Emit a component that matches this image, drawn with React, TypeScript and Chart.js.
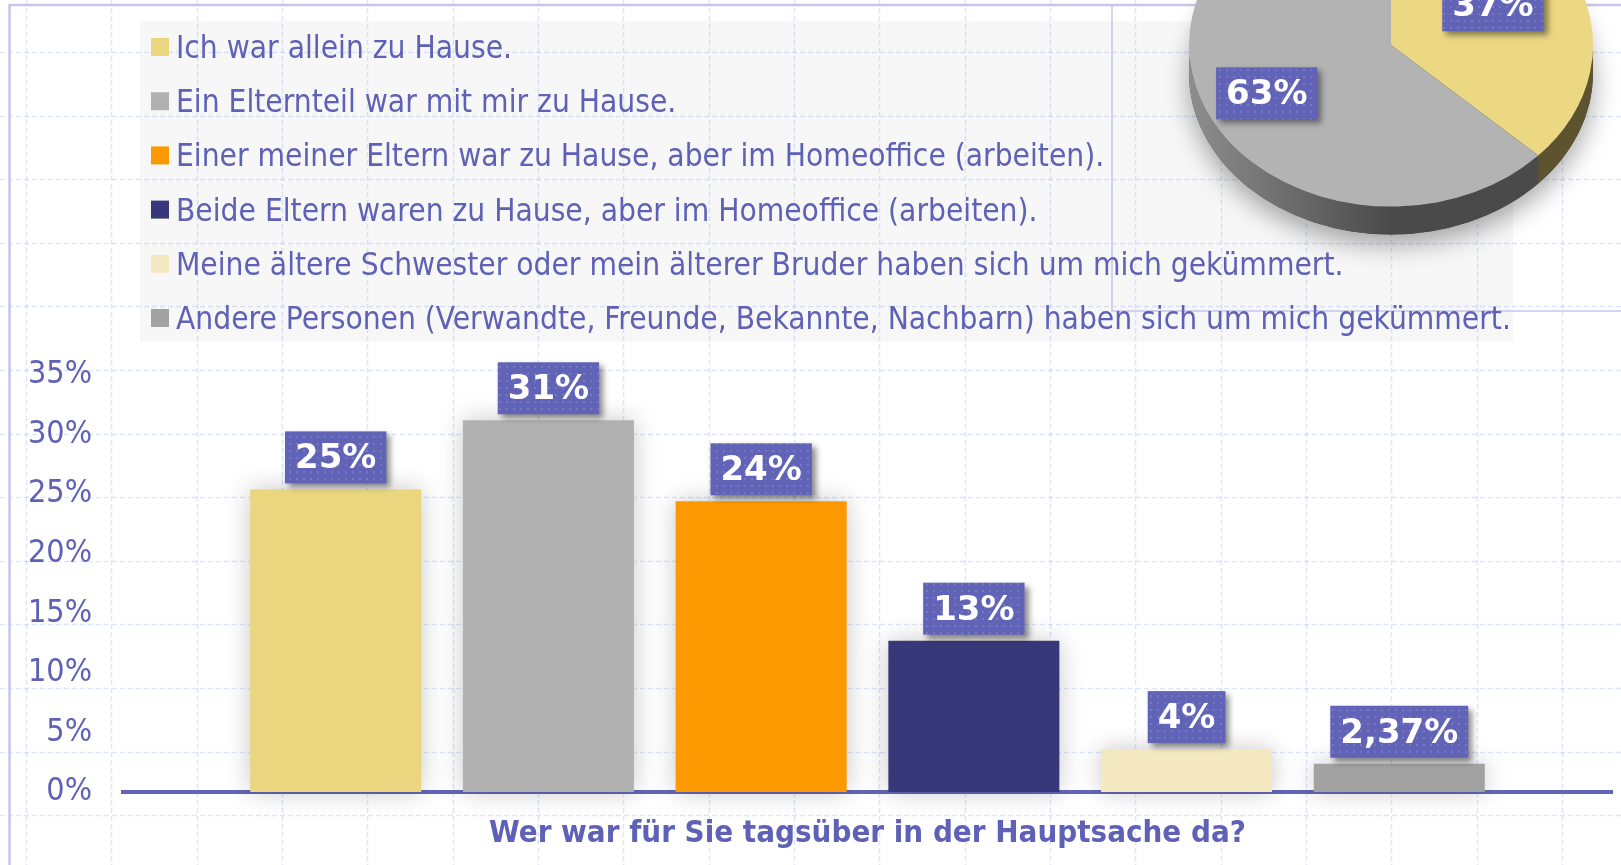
import React, { useEffect, useRef } from 'react';
import { Chart, registerables } from 'chart.js';

Chart.register(...registerables);

// ---------- data ----------
const CATEGORIES = [
  'Ich war allein zu Hause.',
  'Ein Elternteil war mit mir zu Hause.',
  'Einer meiner Eltern war zu Hause, aber im Homeoffice (arbeiten).',
  'Beide Eltern waren zu Hause, aber im Homeoffice (arbeiten).',
  'Meine ältere Schwester oder mein älterer Bruder haben sich um mich gekümmert.',
  'Andere Personen (Verwandte, Freunde, Bekannte, Nachbarn) haben sich um mich gekümmert.',
];
const VALUES = [25.4, 31.2, 24.4, 12.7, 3.6, 2.37];
const VALUE_LABELS = ['25%', '31%', '24%', '13%', '4%', '2,37%'];
const BAR_COLORS = ['#e9d67f', '#b1b1b1', '#fd9900', '#373879', '#f4e8c1', '#a2a2a2'];
const Y_MIN = 0;
const Y_MAX = 35;
const Y_STEP = 5;
const X_TITLE = 'Wer war für Sie tagsüber in der Hauptsache da?';

const PIE_VALUES = [37, 63];
const PIE_VALUE_LABELS = ['37%', '63%'];
const PIE_COLORS = ['#ecd883', '#b3b3b3'];
const PIE_SIDE_COLORS = [['#72653a', '#5e532f'], ['#8e8e8e', '#4a4a4a']];
const PIE_LABEL_RADIUS = [0.55, 0.67];

// ---------- style ----------
const FONT = '"DejaVu Sans Condensed", "DejaVu Sans", sans-serif';
const BOX_FONT = '"DejaVu Sans", sans-serif';
const TEXT = '#5e61b5';
const BOX = '#6163b7';
const W = 1621;
const H = 865;

let dotPattern: CanvasPattern | null = null;
function getPattern(ctx: CanvasRenderingContext2D) {
  if (dotPattern) return dotPattern;
  const c = document.createElement('canvas');
  c.width = 7;
  c.height = 7;
  const p = c.getContext('2d')!;
  p.fillStyle = 'rgba(255,255,255,0.13)';
  p.fillRect(2, 2, 2, 2);
  dotPattern = ctx.createPattern(c, 'repeat');
  return dotPattern;
}

function drawBox(ctx: CanvasRenderingContext2D, cx: number, cy: number, text: string) {
  ctx.save();
  ctx.font = `bold 34px ${BOX_FONT}`;
  const tw = ctx.measureText(text).width;
  const w = tw + 20;
  const h = 52;
  const x = cx - w / 2;
  const y = cy - h / 2;
  ctx.shadowColor = 'rgba(0,0,0,0.45)';
  ctx.shadowBlur = 6;
  ctx.shadowOffsetX = 4;
  ctx.shadowOffsetY = 4;
  ctx.fillStyle = BOX;
  ctx.fillRect(x, y, w, h);
  ctx.shadowColor = 'transparent';
  const pat = getPattern(ctx);
  if (pat) {
    ctx.fillStyle = pat;
    ctx.fillRect(x, y, w, h);
  }
  ctx.fillStyle = '#ffffff';
  ctx.textAlign = 'center';
  ctx.textBaseline = 'middle';
  ctx.fillText(text, cx, cy + 2);
  ctx.restore();
}

const backgroundPlugin = {
  id: 'slideBackground',
  beforeDraw(chart: any) {
    const ctx: CanvasRenderingContext2D = chart.ctx;
    ctx.save();
    ctx.fillStyle = '#ffffff';
    ctx.fillRect(0, 0, W, H);
    // legend panel
    ctx.fillStyle = '#f7f7f7';
    ctx.fillRect(140, 21, 1373, 321);
    // paper grid
    ctx.strokeStyle = 'rgba(170,190,245,0.38)';
    ctx.lineWidth = 1.5;
    ctx.setLineDash([5, 3]);
    for (let x = 26; x < W; x += 85.33) {
      ctx.beginPath();
      ctx.moveTo(Math.round(x) + 0.5, 0);
      ctx.lineTo(Math.round(x) + 0.5, H);
      ctx.stroke();
    }
    for (let y = 52; y < H; y += 63.6) {
      ctx.beginPath();
      ctx.moveTo(0, Math.round(y) + 0.5);
      ctx.lineTo(W, Math.round(y) + 0.5);
      ctx.stroke();
    }
    ctx.setLineDash([]);
    // frames
    ctx.strokeStyle = '#c6c6ec';
    ctx.lineWidth = 2.5;
    ctx.beginPath();
    ctx.moveTo(9.5, H);
    ctx.lineTo(9.5, 5);
    ctx.lineTo(W, 5);
    ctx.stroke();
    ctx.lineWidth = 1.5;
    ctx.beginPath();
    ctx.moveTo(1112, 5);
    ctx.lineTo(1112, 311);
    ctx.lineTo(W, 311);
    ctx.stroke();
    // legend
    ctx.font = `31.4px ${FONT}`;
    ctx.textAlign = 'left';
    ctx.textBaseline = 'alphabetic';
    CATEGORIES.forEach((label, i) => {
      const cy = 47 + i * 54.2;
      ctx.fillStyle = BAR_COLORS[i];
      ctx.fillRect(151, cy - 9, 18, 18);
      ctx.fillStyle = TEXT;
      ctx.fillText(label, 176, cy + 11);
    });
    ctx.restore();
  },
};

const barShadowPlugin = {
  id: 'barShadow',
  beforeDatasetDraw(chart: any) {
    const ctx = chart.ctx;
    ctx.save();
    ctx.shadowColor = 'rgba(0,0,0,0.22)';
    ctx.shadowBlur = 24;
  },
  afterDatasetDraw(chart: any) {
    chart.ctx.restore();
  },
};

const barLabelPlugin = {
  id: 'barLabels',
  afterDatasetsDraw(chart: any) {
    const ctx = chart.ctx;
    const meta = chart.getDatasetMeta(0);
    const data = chart.data.datasets[0].data;
    meta.data.forEach((bar: any, i: number) => {
      if (data[i] == null) return;
      drawBox(ctx, bar.x, bar.y - 6 - 26, VALUE_LABELS[i - 1]);
    });
  },
};

const PIE_K = 0.8;
const PIE_LABEL_K = 0.9;
const PIE_DEPTH = 28;

const pie3dPlugin = {
  id: 'pie3d',
  beforeDatasetsDraw(chart: any) {
    const ctx: CanvasRenderingContext2D = chart.ctx;
    const meta = chart.getDatasetMeta(0);
    const a0 = meta.data[0];
    const cx = a0.x;
    const cy = a0.y;
    const R = a0.outerRadius;
    const D = PIE_DEPTH / PIE_K;
    ctx.save();
    ctx.translate(cx, cy);
    ctx.scale(1, PIE_K);
    ctx.translate(-cx, -cy);
    // drop shadow
    ctx.save();
    ctx.shadowColor = 'rgba(0,0,0,0.35)';
    ctx.shadowBlur = 26;
    ctx.shadowOffsetY = 10;
    ctx.fillStyle = '#4a4a4a';
    ctx.beginPath();
    ctx.arc(cx, cy + D, R, 0, Math.PI * 2);
    ctx.fill();
    ctx.restore();
    meta.data.forEach((arc: any, i: number) => {
      const g = ctx.createLinearGradient(cx - R, 0, cx + R, 0);
      g.addColorStop(0, PIE_SIDE_COLORS[i][0]);
      g.addColorStop(0.5, PIE_SIDE_COLORS[i][1]);
      g.addColorStop(1, PIE_SIDE_COLORS[i][1]);
      for (const off of [-2 * Math.PI, 0, 2 * Math.PI]) {
        const s = Math.max(arc.startAngle + off, 0);
        const e = Math.min(arc.endAngle + off, Math.PI);
        if (e <= s) continue;
        ctx.beginPath();
        ctx.arc(cx, cy, R, s, e);
        ctx.arc(cx, cy + D, R, e, s, true);
        ctx.closePath();
        ctx.fillStyle = g;
        ctx.fill();
      }
    });
  },
  afterDatasetsDraw(chart: any) {
    const ctx: CanvasRenderingContext2D = chart.ctx;
    ctx.restore();
    const meta = chart.getDatasetMeta(0);
    meta.data.forEach((arc: any, i: number) => {
      const mid = (arc.startAngle + arc.endAngle) / 2;
      const r = arc.outerRadius * PIE_LABEL_RADIUS[i];
      const x = arc.x + Math.cos(mid) * r;
      const y = arc.y + Math.sin(mid) * r * PIE_LABEL_K;
      drawBox(ctx, x, y, PIE_VALUE_LABELS[i]);
    });
  },
};

export default function App() {
  const barRef = useRef<HTMLCanvasElement>(null);
  const pieRef = useRef<HTMLCanvasElement>(null);

  useEffect(() => {
    document.body.style.margin = '0';
    const bar = new Chart(barRef.current!, {
      type: 'bar',
      data: {
        labels: ['', ...CATEGORIES, ''],
        datasets: [
          {
            data: [null, ...VALUES, null],
            backgroundColor: ['transparent', ...BAR_COLORS, 'transparent'],
            borderWidth: 0,
            categoryPercentage: 1,
            barPercentage: 0.804,
            clip: false,
          } as any,
        ],
      },
      options: {
        responsive: false,
        animation: false,
        events: [],
        layout: { padding: { top: 375, left: 0, right: 9, bottom: 0 } },
        plugins: { legend: { display: false }, tooltip: { enabled: false } },
        scales: {
          x: {
            type: 'category',
            offset: false,
            ticks: { display: false },
            grid: { display: false, drawTicks: false },
            border: { display: true, color: '#6366b8', width: 4 },
            title: {
              display: true,
              text: X_TITLE,
              color: TEXT,
              font: { family: FONT, size: 31, weight: 'bold', lineHeight: 1.2 },
              padding: { top: 0, bottom: 12 },
            },
            afterFit: (s: any) => {
              s.height = 73;
            },
          },
          y: {
            min: Y_MIN,
            max: Y_MAX,
            ticks: {
              stepSize: Y_STEP,
              color: TEXT,
              font: { family: FONT, size: 32 },
              padding: 31,
              callback: (v: any) => `${v}%`,
            },
            grid: { display: false, drawTicks: false },
            border: { display: false },
            afterFit: (s: any) => {
              s.width = 123;
            },
          },
        },
      } as any,
      plugins: [backgroundPlugin, barShadowPlugin, barLabelPlugin],
    });

    const pie = new Chart(pieRef.current!, {
      type: 'pie',
      data: {
        labels: PIE_VALUE_LABELS,
        datasets: [{ data: PIE_VALUES, backgroundColor: PIE_COLORS, borderWidth: 0, clip: false } as any],
      },
      options: {
        responsive: false,
        animation: false,
        events: [],
        layout: { padding: 28 },
        plugins: { legend: { display: false }, tooltip: { enabled: false } },
      } as any,
      plugins: [pie3dPlugin],
    });

    return () => {
      bar.destroy();
      pie.destroy();
    };
  }, []);

  return (
    <div style={{ position: 'fixed', left: 0, top: 0, width: W, height: H, overflow: 'hidden', background: '#fff' }}>
      <canvas ref={barRef} width={W} height={H} style={{ position: 'absolute', left: 0, top: 0, width: W, height: H }} />
      <canvas ref={pieRef} width={460} height={460} style={{ position: 'absolute', left: 1161, top: -185, width: 460, height: 460 }} />
    </div>
  );
}
